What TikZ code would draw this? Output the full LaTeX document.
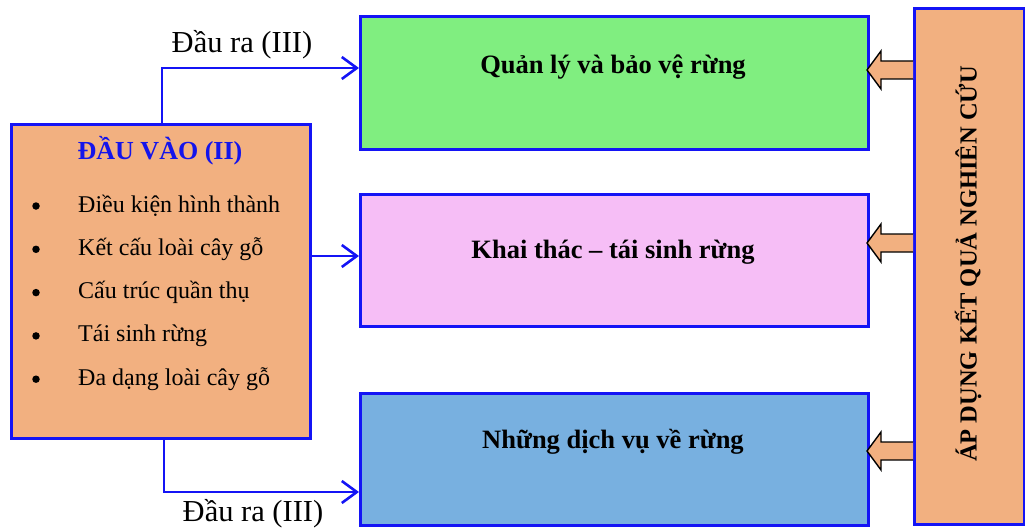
\documentclass[tikz,border=0pt]{standalone}
\usepackage{fontspec}
\setmainfont{Liberation Serif}
\usetikzlibrary{arrows.meta}
\definecolor{lineblue}{RGB}{20,20,245}
\definecolor{orfill}{RGB}{242,176,128}
\definecolor{grfill}{RGB}{128,238,128}
\definecolor{pkfill}{RGB}{246,190,246}
\definecolor{blfill}{RGB}{120,176,224}
\definecolor{titleblue}{RGB}{20,20,235}
\tikzset{
  box/.style={draw=lineblue, line width=3pt, inner sep=0pt, anchor=north west},
  conn/.style={draw=lineblue, line width=2.6pt, -{Straight Barb[length=15pt,width=22pt]}},
  blockarrow/.style={draw=black, line width=1.4pt, fill=orfill, line join=miter},
  title/.style={font=\fontsize{26.5}{30}\selectfont\bfseries},
  item/.style={font=\fontsize{24}{28}\selectfont, anchor=west, inner sep=0pt},
  bul/.style={circle, fill=black, inner sep=0pt, minimum size=7.5pt},
  lab/.style={font=\fontsize{30.5}{34}\selectfont}
}
\begin{document}
\begin{tikzpicture}[x=1pt,y=-1pt]
\useasboundingbox (0,0) rectangle (1025,532);
% boxes
\node[box, fill=orfill, minimum width=299pt, minimum height=314pt] (in) at (10,123) {};
\node[box, fill=grfill, minimum width=508pt, minimum height=133pt] (q) at (359,15) {};
\node[box, fill=pkfill, minimum width=508pt, minimum height=132pt] (k) at (359,193) {};
\node[box, fill=blfill, minimum width=508pt, minimum height=132pt] (n) at (359,392) {};
\node[box, fill=orfill, minimum width=110pt, minimum height=516pt] (ap) at (913,7) {};
% texts
\node[title, text=titleblue, font=\fontsize{26}{30}\selectfont\bfseries] (t0) at (160,151) {ĐẦU VÀO (II)};
\foreach \i/\t in {1/Điều kiện hình thành,2/Kết cấu loài cây gỗ,3/Cấu trúc quần thụ,4/Tái sinh rừng,5/Đa dạng loài cây gỗ}{
  \node[bul] (b\i) at (36,{206+43.3*(\i-1)}) {};
  \node[item] (i\i) at (78,{206+43.3*(\i-1)}) {\t};
}
\node[title] (qt) at (613,67) {Quản lý và bảo vệ rừng};
\node[title] (kt) at (613,252) {Khai thác – tái sinh rừng};
\node[title] (nt) at (613,442) {Những dịch vụ về rừng};
\node[title, font=\fontsize{24.5}{28}\selectfont\bfseries, rotate=90] (apt) at (968,264) {ÁP DỤNG KẾT QUẢ NGHIÊN CỨU};
% connectors
\coordinate (c1) at (162,68);
\coordinate (c2) at (164,492);
\draw[conn] (in.north west -| c1) -- (c1) -- (c1 -| q.west);
\draw[conn] (in.east |- 0,256) -- (k.west |- 0,256);
\draw[conn] (in.south west -| c2) -- (c2) -- (c2 -| n.west);
\node[lab] (l1) at (242,45) {Đầu ra (III)};
\node[lab] (l2) at (253,514) {Đầu ra (III)};
% block arrows
\foreach \c in {70,243,451}{
  \draw[blockarrow] (913,\c-9) -- (881,\c-9) -- (881,\c-19) -- (867,\c) -- (881,\c+19) -- (881,\c+9) -- (913,\c+9);
}
\end{tikzpicture}
\end{document}
